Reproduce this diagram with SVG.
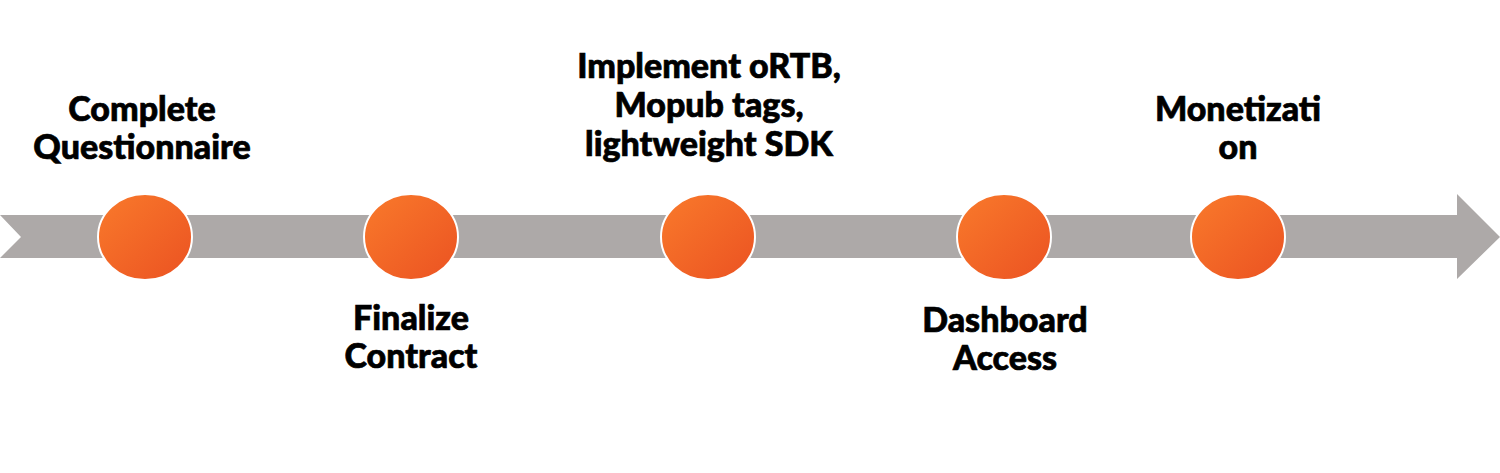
<svg xmlns="http://www.w3.org/2000/svg" width="1500" height="473" viewBox="0 0 1500 473">
  <defs>
    <linearGradient id="orange" x1="0" y1="0" x2="1" y2="1">
      <stop offset="0" stop-color="#F97A2B"/>
      <stop offset="1" stop-color="#EB5222"/>
    </linearGradient>
    <style>
      .dot { fill: url(#orange); stroke: #FFFFFF; stroke-width: 2; }
      .lbl { font-family: Lato, "Liberation Sans", sans-serif; font-weight: 900; font-size: 34px; fill: #000000; stroke: #000000; stroke-width: 0.7; text-anchor: middle; }
    </style>
  </defs>
  <rect width="1500" height="473" fill="#FFFFFF"/>
  <g id="connectors">
    <path d="M0,215 L1457,215 L1457,194 L1500,237 L1457,279 L1457,258 L0,258 L21,237 Z" fill="#ADA9A8"/>
  </g>
  <g id="node1">
    <ellipse class="dot" cx="145" cy="237" rx="47" ry="43"/>
    <text class="lbl"><tspan x="142" y="121">Complete</tspan><tspan x="142" y="159">Questionnaire</tspan></text>
  </g>
  <g id="node2">
    <ellipse class="dot" cx="411" cy="237" rx="47" ry="43"/>
    <text class="lbl"><tspan x="411" y="330">Finalize</tspan><tspan x="411" y="368">Contract</tspan></text>
  </g>
  <g id="node3">
    <ellipse class="dot" cx="708" cy="237" rx="47" ry="43"/>
    <text class="lbl"><tspan x="709" y="78">Implement oRTB,</tspan><tspan x="709" y="117">Mopub tags,</tspan><tspan x="709" y="156">lightweight SDK</tspan></text>
  </g>
  <g id="node4">
    <ellipse class="dot" cx="1004" cy="237" rx="47" ry="43"/>
    <text class="lbl"><tspan x="1005" y="332">Dashboard</tspan><tspan x="1005" y="370">Access</tspan></text>
  </g>
  <g id="node5">
    <ellipse class="dot" cx="1238" cy="237" rx="47" ry="43"/>
    <text class="lbl"><tspan x="1238" y="121">Monetizati</tspan><tspan x="1238" y="159">on</tspan></text>
  </g>
</svg>
